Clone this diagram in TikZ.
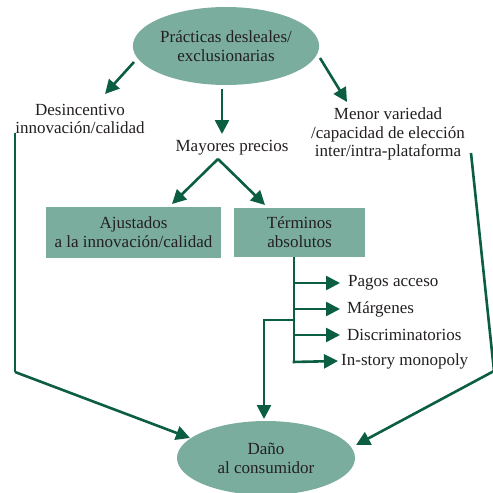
\documentclass[tikz,border=0pt]{standalone}
\usepackage{fontspec}
\setmainfont{Liberation Serif}
\usetikzlibrary{arrows.meta,shapes.geometric}
\definecolor{fillg}{HTML}{7AAD9E}
\definecolor{lineg}{HTML}{0B5E42}
\definecolor{txt}{HTML}{231F20}
\begin{document}
\begin{tikzpicture}[x=1pt,y=-1pt,
  every node/.style={text=txt,font=\fontsize{17}{18.8}\selectfont,align=center},
  oval/.style={ellipse,fill=fillg,inner sep=0pt},
  greenbox/.style={rectangle,fill=fillg,inner sep=0pt},
  plain/.style={inner sep=0pt},
  conn/.style={draw=lineg,line width=2.6pt},
  arr/.style={conn,-{Triangle[length=14pt,width=14pt]}},
]
\useasboundingbox (0,0) rectangle (493,493);
% nodes
\node[oval,minimum width=178pt,minimum height=78pt] (top) at (226,46) {Prácticas desleales/\\exclusionarias};
\node[plain] (desinc) at (80,119) {Desincentivo\\innovación/calidad};
\node[plain] (mayores) at (232,148) {Mayores precios};
\node[plain] (menor) at (388,134) {Menor variedad\\/capacidad de elección\\inter/intra-plataforma};
\node[greenbox,minimum width=175pt,minimum height=51pt] (ajust) at (133.5,232.5) {Ajustados\\a la innovación/calidad};
\node[greenbox,minimum width=131pt,minimum height=49pt] (term) at (299.5,232.5) {Términos\\absolutos};
\node[plain,anchor=west] (pagos) at (348,283) {Pagos acceso};
\node[plain,anchor=west] (marg) at (347,309) {Márgenes};
\node[plain,anchor=west] (disc) at (347,335) {Discriminatorios};
\node[plain,anchor=west] (instory) at (341,361) {In-story monopoly};
\node[oval,minimum width=178pt,minimum height=74pt] (dano) at (266,458) {Daño\\al consumidor};
% coordinates
\coordinate (t1) at (134,62);
\coordinate (t1e) at (105,94);
\coordinate (t2) at (222,89);
\coordinate (t2e) at (222,134);
\coordinate (t3) at (320,58);
\coordinate (t3e) at (347,102);
\coordinate (mp) at (218,159);
\coordinate (mpl) at (172,204);
\coordinate (mpr) at (265,205);
\coordinate (lt) at (15,133);
\coordinate (lc) at (15,372);
\coordinate (le) at (190,438);
\coordinate (rt) at (471,153);
\coordinate (rc) at (494,371);
\coordinate (re) at (356,445);
\coordinate (bb) at (294,362);
\coordinate (bj) at (294,320);
\coordinate (bl) at (264,320);
\coordinate (be) at (264,419);
\coordinate (pe) at (340,283);
\coordinate (me) at (340,309);
\coordinate (de) at (340,335);
\coordinate (ie) at (338,361);
% connectors
\draw[arr] (t1) -- (t1e);
\draw[arr] (t2) -- (t2e);
\draw[arr] (t3) -- (t3e);
\draw[arr] (mp) -- (mpl);
\draw[arr] (mp) -- (mpr);
\draw[conn] (lt) -- (lc);
\draw[arr] (lc) -- (le);
\draw[conn] (rt) -- (rc);
\draw[arr] (rc) -- (re);
\draw[conn] (term.south -| bb) -- (bb);
\draw[arr] (pe -| bb) -- (pe);
\draw[arr] (me -| bb) -- (me);
\draw[arr] (de -| bb) -- (de);
\draw[arr] ([xshift=-1.3pt]bb) -- (ie);
\draw[arr] (bj) -- (bl) -- (be);
\end{tikzpicture}
\end{document}
